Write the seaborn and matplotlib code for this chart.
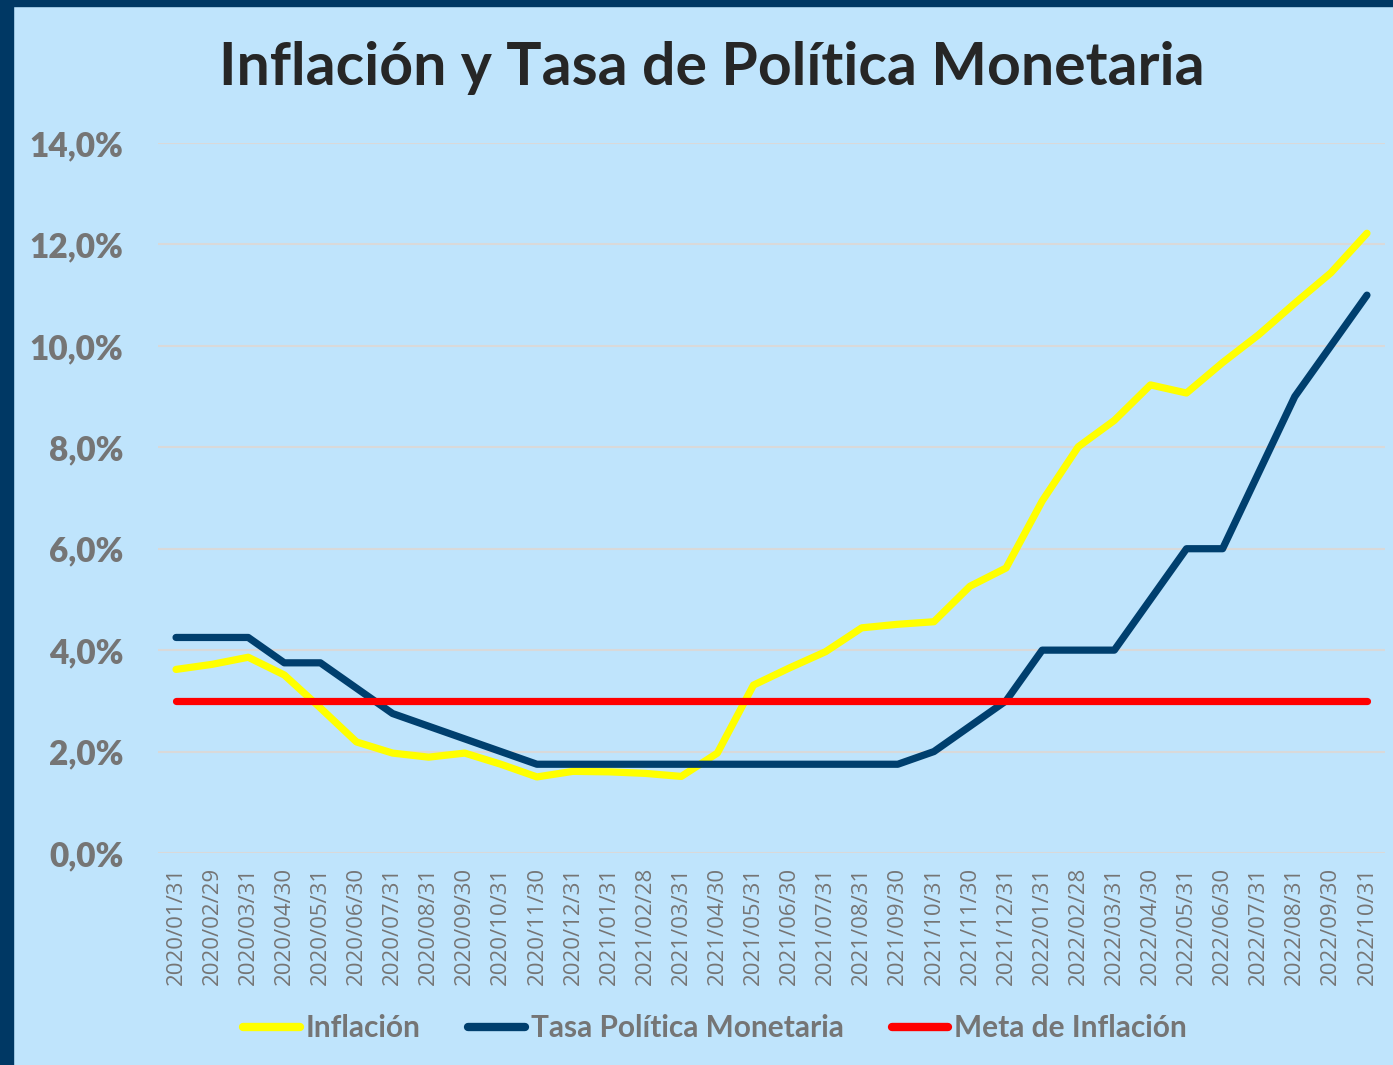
import matplotlib
matplotlib.use("Agg")
import matplotlib.pyplot as plt
import seaborn as sns
import pandas as pd
from matplotlib.patches import Rectangle

dates = ["2020/01/31", "2020/02/29", "2020/03/31", "2020/04/30", "2020/05/31", "2020/06/30",
         "2020/07/31", "2020/08/31", "2020/09/30", "2020/10/31", "2020/11/30", "2020/12/31",
         "2021/01/31", "2021/02/28", "2021/03/31", "2021/04/30", "2021/05/31", "2021/06/30",
         "2021/07/31", "2021/08/31", "2021/09/30", "2021/10/31", "2021/11/30", "2021/12/31",
         "2022/01/31", "2022/02/28", "2022/03/31", "2022/04/30", "2022/05/31", "2022/06/30",
         "2022/07/31", "2022/08/31", "2022/09/30", "2022/10/31"]

inflacion = [3.62, 3.72, 3.86, 3.51, 2.86, 2.19, 1.97, 1.89, 1.97, 1.75, 1.50, 1.61,
             1.60, 1.57, 1.51, 1.97, 3.31, 3.65, 3.97, 4.44, 4.51, 4.56, 5.26, 5.62,
             6.94, 8.01, 8.53, 9.23, 9.07, 9.67, 10.22, 10.84, 11.44, 12.22]

tpm = [4.25, 4.25, 4.25, 3.75, 3.75, 3.25, 2.75, 2.50, 2.25, 2.00, 1.75, 1.75,
       1.75, 1.75, 1.75, 1.75, 1.75, 1.75, 1.75, 1.75, 1.75, 2.00, 2.50, 3.00,
       4.00, 4.00, 4.00, 5.00, 6.00, 6.00, 7.50, 9.00, 10.00, 11.00]

meta = [3.0] * len(dates)

series_names = ["Inflación", "Tasa Política Monetaria", "Meta de Inflación"]
series_colors = ["#FFFF00", "#003F6E", "#FF0000"]
y_ticks = [0, 2, 4, 6, 8, 10, 12, 14]
y_tick_labels = ["0,0%", "2,0%", "4,0%", "6,0%", "8,0%", "10,0%", "12,0%", "14,0%"]
title = "Inflación y Tasa de Política Monetaria"

rows = []
for name, vals in zip(series_names, [inflacion, tpm, meta]):
    for i, (d, v) in enumerate(zip(dates, vals)):
        rows.append({"idx": i, "fecha": d, "valor": v, "serie": name})
df = pd.DataFrame(rows)

bg = "#BFE4FC"
navy = "#003864"
gray = "#757575"

sns.set_theme(style="white")
plt.rcParams["font.family"] = ["Lato", "DejaVu Sans"]

fig = plt.figure(figsize=(13.93, 10.65), dpi=100)
fig.patch.set_facecolor(bg)
ax = fig.add_axes([158 / 1393, 1 - 853 / 1065, (1385 - 158) / 1393, (853 - 143) / 1065])
ax.set_facecolor(bg)

sns.lineplot(data=df, x="idx", y="valor", hue="serie", hue_order=series_names,
             palette=series_colors, linewidth=5.2, solid_capstyle="round",
             ax=ax, legend=True, sort=False)

ax.set_xlim(-0.5, len(dates) - 0.5)
ax.set_ylim(0, 14)
ax.set_yticks(y_ticks)
ax.set_yticklabels(y_tick_labels, fontsize=24, fontweight="heavy", color=gray)
ax.set_xticks(range(len(dates)))
ax.set_xticklabels(dates, rotation=90, fontsize=16, color=gray, family="Open Sans")
ax.tick_params(axis="y", length=0, pad=25)
ax.tick_params(axis="x", length=0, pad=10)
ax.grid(axis="y", color="#D9D9D9", linewidth=1.5)
ax.grid(axis="x", visible=False)
ax.set_axisbelow(True)
for s in ax.spines.values():
    s.set_visible(False)
ax.set_xlabel("")
ax.set_ylabel("")

handles, labels = ax.get_legend_handles_labels()
ax.get_legend().remove()
for h in handles:
    h.set_linewidth(6)
    h.set_solid_capstyle("round")
leg = fig.legend(handles, labels, loc="center", bbox_to_anchor=(715 / 1393, 1 - 1028 / 1065),
                 ncol=3, frameon=False, handlelength=1.9, handletextpad=0.2,
                 columnspacing=1.6, prop={"family": "Lato", "weight": "bold", "size": 21.5})
for t in leg.get_texts():
    t.set_color(gray)

fig.text(712 / 1393, 1 - 68 / 1065, title, ha="center", va="center",
         fontsize=42.5, fontweight="bold", color="#262626")

# navy border on left and top
fig.patches.append(Rectangle((0, 0), 13 / 1393, 1, transform=fig.transFigure,
                             color=navy, zorder=10))
fig.patches.append(Rectangle((0, 1 - 6 / 1065), 1, 6 / 1065, transform=fig.transFigure,
                             color=navy, zorder=10))

fig.savefig("out.png", dpi=100, facecolor=bg)
